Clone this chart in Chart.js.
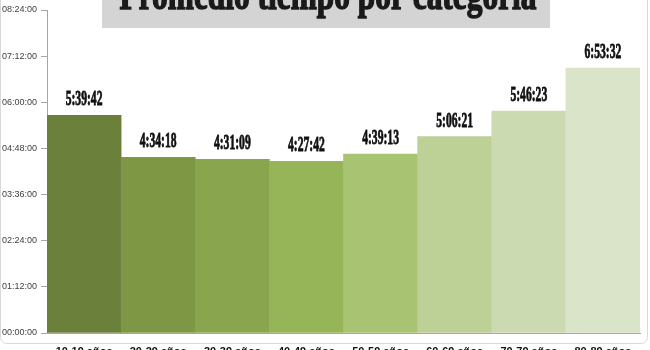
<!DOCTYPE html>
<html>
<head>
<meta charset="utf-8">
<script src="https://cdn.jsdelivr.net/npm/chart.js@4.4.1/dist/chart.umd.min.js"></script>
<style>
  html, body { margin: 0; padding: 0; background: #fff; overflow: hidden; }
  #wrap { width: 650px; height: 350px; overflow: hidden; }
</style>
</head>
<body>
<div id="wrap"><canvas id="chart" width="650" height="370"></canvas></div>
<script>
// datos
const categorias = ['10-19 años', '20-29 años', '30-39 años', '40-49 años', '50-59 años', '60-69 años', '70-79 años', '80-89 años'];
const tiempos = ['5:39:42', '4:34:18', '4:31:09', '4:27:42', '4:39:13', '5:06:21', '5:46:23', '6:53:32'];
const colores = ['#6b803b', '#7e9745', '#89a54e', '#96b558', '#a8c372', '#bdd096', '#cbdab1', '#dae4c8'];
const titulo = 'Promedio tiempo por categoría';
const ejeMax = '08:24:00';
const ejePaso = '01:12:00';

function aSegundos(t) {
    const p = t.split(':').map(Number);
    return p[0] * 3600 + p[1] * 60 + p[2];
}
function aHora(s) {
    const h = Math.floor(s / 3600), m = Math.floor((s % 3600) / 60), sec = Math.round(s % 60);
    return [h, m, sec].map(v => String(v).padStart(2, '0')).join(':');
}

const valores = tiempos.map(aSegundos);

// texto condensado: se dibuja escalado en horizontal (y un poco engrosado)
function textoCondensado(ctx, txt, x, y, font, escala, grosor) {
    ctx.save();
    ctx.font = font;
    ctx.translate(x, y);
    ctx.scale(escala, 1);
    ctx.fillText(txt, 0, 0);
    if (grosor) {
        ctx.lineWidth = grosor;
        ctx.strokeStyle = ctx.fillStyle;
        ctx.strokeText(txt, 0, 0);
    }
    ctx.restore();
}

const etiquetasPlugin = {
    id: 'etiquetas',
    afterDatasetsDraw(chart) {
        const ctx = chart.ctx;
        const meta = chart.getDatasetMeta(0);
        ctx.save();
        ctx.fillStyle = '#111';
        ctx.textAlign = 'center';
        ctx.textBaseline = 'alphabetic';
        meta.data.forEach((bar, i) => {
            textoCondensado(ctx, tiempos[i], bar.x, bar.y - 10, 'bold 20px "Liberation Serif"', 0.58, 0.8);
        });
        ctx.restore();
    }
};

const tituloPlugin = {
    id: 'tituloCaja',
    afterDraw(chart) {
        const ctx = chart.ctx;
        ctx.save();
        ctx.fillStyle = '#d4d4d4';
        ctx.fillRect(102, 0, 448, 28);
        ctx.fillStyle = '#1a1a1a';
        ctx.textAlign = 'center';
        ctx.textBaseline = 'alphabetic';
        ctx.font = 'bold 42px "Liberation Serif"';
        const w = ctx.measureText(titulo).width;
        textoCondensado(ctx, titulo, 328, 9, 'bold 42px "Liberation Serif"', 417 / w, 1.5);
        // borde del área del gráfico
        ctx.strokeStyle = '#d9d9d9';
        ctx.lineWidth = 1;
        ctx.beginPath();
        ctx.roundRect(0.5, -20, 647, 363.5, 6);
        ctx.stroke();
        ctx.restore();
    }
};

new Chart(document.getElementById('chart'), {
    type: 'bar',
    data: {
        labels: categorias,
        datasets: [{
            data: valores,
            backgroundColor: colores,
            borderWidth: 0,
            barPercentage: 1,
            categoryPercentage: 1
        }]
    },
    options: {
        responsive: false,
        animation: false,
        layout: { padding: { top: 10, right: 10, left: 0, bottom: 0 } },
        plugins: { legend: { display: false }, tooltip: { enabled: false }, title: { display: false } },
        scales: {
            x: {
                afterFit(s) { s.height = 37; },
                grid: { drawOnChartArea: false, drawTicks: false },
                border: { color: '#a6a6a6' },
                ticks: { color: '#111', padding: 12, font: { family: 'Liberation Sans', size: 11, weight: 'bold' } }
            },
            y: {
                min: 0,
                max: aSegundos(ejeMax),
                afterFit(s) { s.width = 47; },
                grid: { drawOnChartArea: false, drawTicks: true, tickLength: 6, color: '#a6a6a6' },
                border: { color: '#a6a6a6' },
                ticks: {
                    stepSize: aSegundos(ejePaso),
                    padding: 4,
                    color: '#404040',
                    font: { family: 'Liberation Sans', size: 9 },
                    callback: v => aHora(v)
                }
            }
        }
    },
    plugins: [etiquetasPlugin, tituloPlugin]
});
</script>
</body>
</html>
